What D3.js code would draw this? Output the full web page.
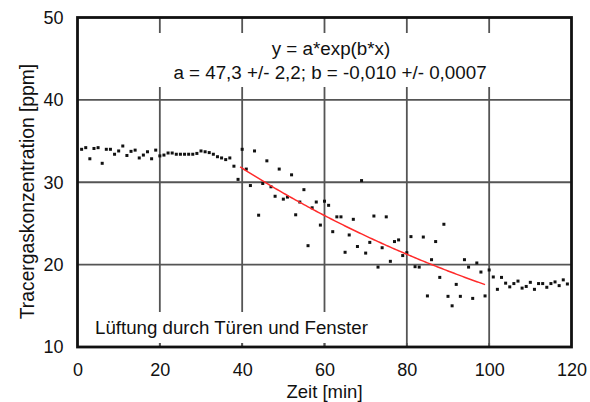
<!DOCTYPE html>
<html>
<head>
<meta charset="utf-8">
<script src="https://cdn.jsdelivr.net/npm/d3@7"></script>
<style>
  body { margin: 0; background: #fff; }
  text { font-family: "Liberation Sans", Arial, sans-serif; fill: #111; }
</style>
</head>
<body>
<div class="canvas"></div>
<script>
// measured values (one reading per minute)
const minutes = [
    1, 2, 3, 4, 5, 6, 7, 8, 9, 10, 11, 12, 13, 14, 15, 16, 17, 18, 19, 20,
    21, 22, 23, 24, 25, 26, 27, 28, 29, 30, 31, 32, 33, 34, 35, 36, 37, 38, 39, 40,
    41, 42, 43, 44, 45, 46, 47, 48, 49, 50, 51, 52, 53, 54, 55, 56, 57, 58, 59, 60,
    61, 62, 63, 64, 65, 66, 67, 68, 69, 70, 71, 72, 73, 74, 75, 76, 77, 78, 79, 80,
    81, 82, 83, 84, 85, 86, 87, 88, 89, 90, 91, 92, 93, 94, 95, 96, 97, 98, 99, 100,
    101, 102, 103, 104, 105, 106, 107, 108, 109, 110, 111, 112, 113, 114, 115, 116, 117, 118, 119
]
const concentration = [
    34.0, 34.2, 32.85, 34.1, 34.2, 32.3, 34.0, 34.0, 33.4, 33.8, 34.4, 33.25, 33.75, 33.9, 32.95, 33.3, 33.7, 32.85, 33.9, 33.2,
    33.3, 33.55, 33.55, 33.4, 33.4, 33.4, 33.4, 33.4, 33.5, 33.8, 33.7, 33.6, 33.4, 33.1, 32.95, 32.75, 32.95, 31.95, 30.35, 34.0,
    31.6, 29.6, 33.8, 26.0, 29.85, 32.6, 29.45, 28.3, 31.6, 27.95, 28.2, 30.9, 26.05, 27.6, 29.1, 22.3, 26.9, 27.6, 24.8, 27.7,
    27.2, 24.0, 25.8, 25.8, 21.5, 23.6, 25.5, 22.2, 30.2, 21.4, 22.7, 25.9, 19.7, 22.05, 25.8, 20.4, 22.8, 23.0, 21.1, 21.45,
    23.4, 19.75, 19.7, 23.35, 16.2, 20.6, 22.8, 18.45, 24.9, 16.15, 15.0, 17.6, 16.15, 20.6, 19.7, 15.9, 20.2, 19.1, 16.2, 19.35,
    18.5, 17.0, 18.45, 17.75, 17.3, 17.7, 18.0, 17.15, 17.35, 17.85, 17.0, 17.7, 17.7, 17.25, 17.7, 17.9, 17.45, 18.15, 17.65
]

// exponential fit y = a*exp(b*x)
const fitA = 47.3
const fitB = -0.010
const fitRange = [39.5, 99]

const xTicks = [0, 20, 40, 60, 80, 100, 120]
const yTicks = [10, 20, 30, 40, 50]

const fitLabel = "y = a*exp(b*x)"
const fitParams = "a = 47,3 +/- 2,2; b = -0,010 +/- 0,0007"
const noteLabel = "Lüftung durch Türen und Fenster"

/**
 * Dimensions
 */
const width = 590
const height = 402
const margin = {top: 17.5, right: 18.5, bottom: 55, left: 77.5}
const graphWidth = width - margin.left - margin.right
const graphHeight = height - margin.top - margin.bottom

const svg = d3.select(".canvas")
    .append("svg")
    .attr("width", width)
    .attr("height", height)

const graph = svg.append("g")
    .attr("transform", `translate(${margin.left},${margin.top})`)

/**
 * Scales
 */
const x = d3.scaleLinear().domain([0, 120]).range([0, graphWidth])
const y = d3.scaleLinear().domain([10, 50]).range([graphHeight, 0])

// grid lines
graph.append("g")
    .selectAll("line.vgrid")
    .data(xTicks.slice(1, -1))
    .enter().append("line")
        .attr("x1", d => x(d)).attr("x2", d => x(d))
        .attr("y1", 0).attr("y2", graphHeight)
        .attr("stroke", "#555")
        .attr("stroke-width", 1.8)

graph.append("g")
    .selectAll("line.hgrid")
    .data(yTicks.slice(1, -1))
    .enter().append("line")
        .attr("x1", 0).attr("x2", graphWidth)
        .attr("y1", d => y(d)).attr("y2", d => y(d))
        .attr("stroke", "#555")
        .attr("stroke-width", 1.8)

// white label boxes covering the grid
graph.append("rect")
    .attr("x", 2).attr("y", 15.5)
    .attr("width", graphWidth - 4).attr("height", 54)
    .attr("fill", "#fff")

graph.append("rect")
    .attr("x", 2).attr("y", 294.5)
    .attr("width", 292).attr("height", 31)
    .attr("fill", "#fff")

// bottom ticks pointing inward
graph.append("g")
    .selectAll("line.tick")
    .data(xTicks.slice(1, -1))
    .enter().append("line")
        .attr("x1", d => x(d)).attr("x2", d => x(d))
        .attr("y1", graphHeight - 4).attr("y2", graphHeight)
        .attr("stroke", "#555")
        .attr("stroke-width", 1.8)

/**
 * Data points
 */
const data = minutes.map((m, i) => ({t: m, c: concentration[i]}))

graph.selectAll("rect.pt")
    .data(data)
    .enter().append("rect")
        .attr("class", "pt")
        .attr("x", d => x(d.t) - 1.5)
        .attr("y", d => y(d.c) - 1.5)
        .attr("width", 3)
        .attr("height", 3)
        .attr("fill", "#111")

// fit curve
const fitData = d3.range(fitRange[0], fitRange[1] + 0.01, 0.5)
    .map(t => ({t: t, c: fitA * Math.exp(fitB * t)}))

const line = d3.line()
    .x(d => x(d.t))
    .y(d => y(d.c))

graph.append("path")
    .datum(fitData)
    .attr("fill", "none")
    .attr("stroke", "#ff2b2b")
    .attr("stroke-width", 1.5)
    .attr("d", line)

// frame
graph.append("rect")
    .attr("width", graphWidth)
    .attr("height", graphHeight)
    .attr("fill", "none")
    .attr("stroke", "#111")
    .attr("stroke-width", 2.8)

/**
 * Axes
 */
const xAxis = d3.axisBottom(x).tickValues(xTicks).tickSize(0).tickPadding(16)
const yAxis = d3.axisLeft(y).tickValues(yTicks).tickSize(0).tickPadding(14)

const xAxisGroup = graph.append("g")
    .attr("transform", `translate(0, ${graphHeight})`)
    .call(xAxis)
const yAxisGroup = graph.append("g").call(yAxis)

xAxisGroup.select(".domain").remove()
yAxisGroup.select(".domain").remove()
graph.selectAll(".tick text")
    .attr("font-family", "Liberation Sans, Arial, sans-serif")
    .attr("font-size", 18)
    .attr("fill", "#111")

// axis titles
svg.append("text")
    .attr("x", margin.left + x(60))
    .attr("y", 398)
    .attr("text-anchor", "middle")
    .attr("font-size", 18.5)
    .text("Zeit [min]")

svg.append("text")
    .attr("transform", "translate(34, 191.5) rotate(-90)")
    .attr("text-anchor", "middle")
    .attr("font-size", 19.3)
    .text("Tracergaskonzentration [ppm]")

// annotations
svg.append("text")
    .attr("x", 331)
    .attr("y", 55)
    .attr("text-anchor", "middle")
    .attr("font-size", 18.8)
    .text(fitLabel)

svg.append("text")
    .attr("x", 330)
    .attr("y", 78.5)
    .attr("text-anchor", "middle")
    .attr("font-size", 18.8)
    .text(fitParams)

svg.append("text")
    .attr("x", 95)
    .attr("y", 334)
    .attr("font-size", 18.7)
    .text(noteLabel)
</script>
</body>
</html>
